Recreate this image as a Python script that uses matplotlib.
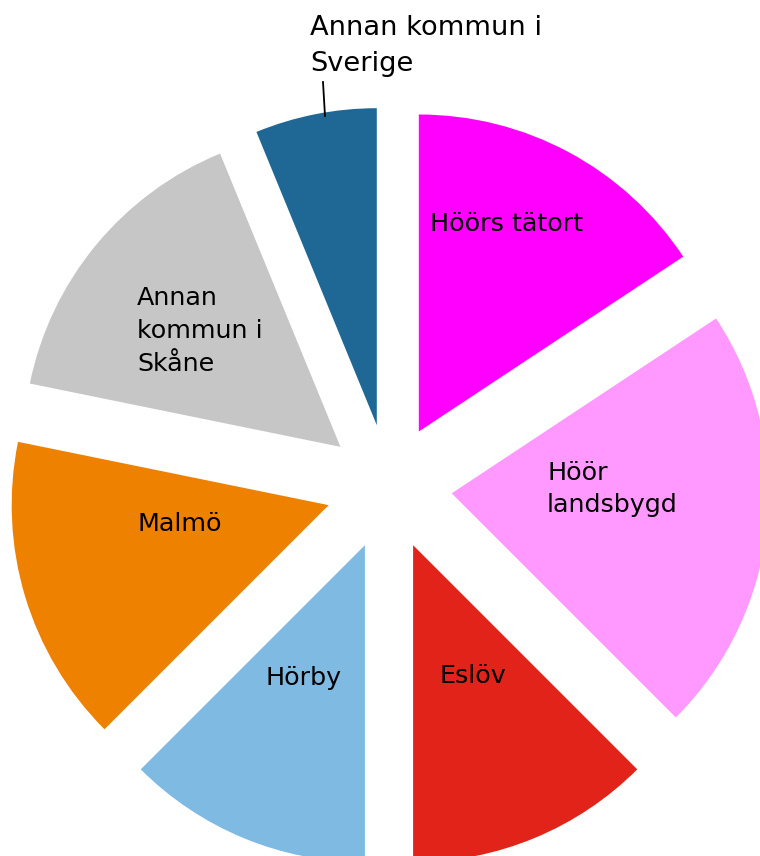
import matplotlib
matplotlib.use("Agg")
import matplotlib.pyplot as plt

# andelar (läst ur bilden, grader/360)
labels = ["Höörs tätort", "Höör\nlandsbygd", "Eslöv", "Hörby", "Malmö",
          "Annan\nkommun i\nSkåne", "Annan kommun i\nSverige"]
values = [15.7, 21.8, 12.5, 12.5, 15.7, 15.6, 6.2]
colors = ["#FF00FF", "#FF99FF", "#E2231A", "#7FBAE3", "#EE8100", "#C6C6C6", "#1F6896"]

W, H = 760, 856
fig = plt.figure(figsize=(W / 100, H / 100), dpi=100)
ax = fig.add_axes([0, 0, 1, 1])

ax.pie(values, colors=colors, startangle=90, counterclock=False,
       radius=317, center=(389, H - 487), explode=[63] * len(values),
       wedgeprops=dict(linewidth=0))

ax.set_xlim(0, W)
ax.set_ylim(0, H)
ax.set_aspect("equal")
ax.set_axis_off()

# etiketter (pixelpositioner från toppen)
pos = [(430, 224), (547, 489), (440, 676), (266, 678), (137, 524), (137, 331), (310, 46)]
sizes = [18.3] * 6 + [19.6]
spacing = [1.45] * 6 + [1.53]
for lab, (px, py), fs, ls in zip(labels, pos, sizes, spacing):
    ax.text(px, H - py, lab, ha="left", va="center", fontsize=fs,
            linespacing=ls, color="black", family="DejaVu Sans")

# ledarlinje för "Annan kommun i Sverige"
ax.plot([323, 325], [H - 82, H - 116], color="black", lw=1.3)

fig.savefig("out.png", dpi=100)
